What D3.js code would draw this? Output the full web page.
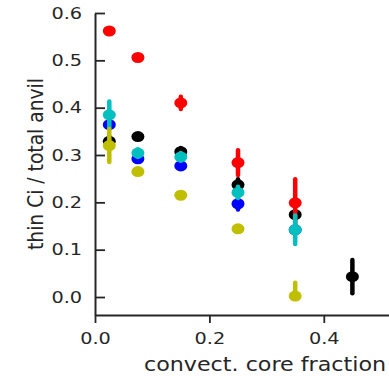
<!DOCTYPE html>
<html>
<head>
<meta charset="utf-8">
<script src="https://cdn.jsdelivr.net/npm/d3@7"></script>
<style>
  body { margin: 0; background: #fff; }
  svg { display: block; }
  text { font-family: "DejaVu Sans", sans-serif; fill: #262626; }
</style>
</head>
<body>
<div id="chart"></div>
<script>
// data
const coreFraction = [0.025, 0.075, 0.15, 0.25, 0.35, 0.45];
const xTicks = [0.0, 0.2, 0.4];
const yTicks = [0.0, 0.1, 0.2, 0.3, 0.4, 0.5, 0.6];

const blackVals  = [0.329, 0.339, 0.307, 0.237, 0.174, 0.043];
const blackErr   = [0.010, 0.005, 0.008, 0.012, 0.008, 0.035];
const blueVals   = [0.364, 0.292, 0.277, 0.197, 0.142, null];
const blueErr    = [0.008, 0.005, 0.006, 0.012, 0.010, null];
const redVals    = [0.562, 0.506, 0.410, 0.284, 0.199, null];
const redErr     = [0.006, 0.005, 0.013, 0.026, 0.050, null];
const cyanVals   = [0.385, 0.304, 0.296, 0.221, 0.142, null];
const cyanErr    = [0.028, 0.008, 0.008, 0.012, 0.030, null];
const yellowVals = [0.320, 0.265, 0.215, 0.144, 0.002, null];
const yellowErr  = [0.035, 0.004, 0.004, 0.004, 0.028, null];
const yellowErrLow = [0.035, 0.004, 0.004, 0.004, 0.002, null];

const W = 389, H = 376;
const SX = 1.17; // the reference text is a bit wider than tall

const series = [
  {color: '#000000', vals: blackVals, up: blackErr, lo: blackErr},
  {color: '#0000ff', vals: blueVals, up: blueErr, lo: blueErr},
  {color: '#ff0000', vals: redVals, up: redErr, lo: redErr},
  {color: '#00bfbf', vals: cyanVals, up: cyanErr, lo: cyanErr},
  {color: '#bfbf00', vals: yellowVals, up: yellowErr, lo: yellowErrLow}
];

const svg = d3.select('#chart').append('svg')
  .attr('width', W)
  .attr('height', H);

const x = d3.scaleLinear().domain([0, 0.514]).range([95, 389]);
const y = d3.scaleLinear().domain([-0.038, 0.6]).range([315, 13]);

// x axis
const gx = svg.append('g')
  .attr('transform', 'translate(0,315)')
  .call(d3.axisBottom(x).tickValues(xTicks).tickFormat(d3.format('.1f'))
    .tickSize(8).tickSizeOuter(0).tickPadding(9.5));

// y axis, ticks point inwards
const gy = svg.append('g')
  .attr('transform', 'translate(95,0)')
  .call(d3.axisLeft(y).tickValues(yTicks).tickFormat(d3.format('.1f'))
    .tickSizeInner(-10).tickSizeOuter(0).tickPadding(11));

[gx, gy].forEach(g => {
  g.select('.domain').attr('stroke', '#262626').attr('stroke-width', 2);
  g.selectAll('.tick line').attr('stroke', '#262626').attr('stroke-width', 1.8);
  g.selectAll('.tick text')
    .attr('font-size', 16.5)
    .attr('font-family', 'DejaVu Sans')
    .attr('fill', '#262626')
    .attr('transform', `scale(${SX},1)`);
});

// points with error bars
series.forEach(s => {
  const pts = coreFraction.map((cf, i) => ({cf, v: s.vals[i], up: s.up[i], lo: s.lo[i]}))
    .filter(d => d.v !== null);
  const g = svg.append('g');
  g.selectAll('line')
    .data(pts)
    .enter()
    .append('line')
      .attr('x1', d => x(d.cf))
      .attr('x2', d => x(d.cf))
      .attr('y1', d => y(d.v + d.up))
      .attr('y2', d => y(d.v - d.lo))
      .attr('stroke', s.color)
      .attr('stroke-width', 4.5)
      .attr('stroke-linecap', 'round');
  g.selectAll('ellipse')
    .data(pts)
    .enter()
    .append('ellipse')
      .attr('cx', d => x(d.cf))
      .attr('cy', d => y(d.v))
      .attr('rx', 6.5)
      .attr('ry', 5.5)
      .attr('fill', s.color);
});

// axis labels
svg.append('text')
  .attr('transform', `translate(265,371) scale(${SX},1)`)
  .attr('text-anchor', 'middle')
  .attr('font-size', 19)
  .text('convect. core fraction');

svg.append('text')
  .attr('transform', `translate(43,164) scale(${SX},1) rotate(-90)`)
  .attr('text-anchor', 'middle')
  .attr('font-size', 18.7)
  .text('thin Ci / total anvil');
</script>
</body>
</html>
